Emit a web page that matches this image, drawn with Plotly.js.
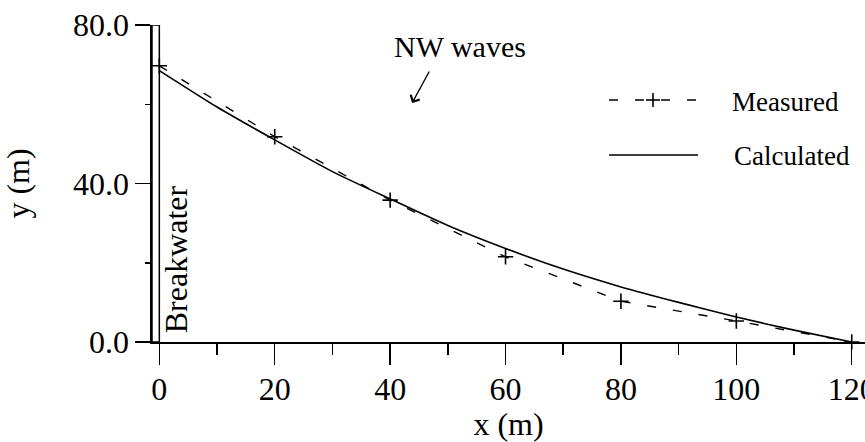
<!DOCTYPE html>
<html><head><meta charset="utf-8">
<script src="https://cdn.plot.ly/plotly-3.0.1.min.js"></script>
<style>html,body{margin:0;padding:0;background:#fff;overflow:hidden}#chart{width:865px;height:442px}</style>
</head><body><div id="chart"></div>
<script>
// ---- data ----
const measuredX = [0, 20, 40, 60, 80, 100, 120];
const measuredY = [69.7, 51.8, 35.8, 21.5, 10.3, 5.3, 0];
const calculatedX = [0, 10, 20, 30, 40, 50, 60, 70, 80, 90, 100, 110, 120];
const calculatedY = [68.5, 59.3, 51.0, 43.0, 36.1, 29.4, 23.6, 18.4, 13.9, 10.0, 6.3, 3.0, 0];
const xTickVals = [0, 20, 40, 60, 80, 100, 120];
const xTickText = ['0', '20', '40', '60', '80', '100', '120'];
const yTickVals = [0, 40, 80];
const yTickText = ['0.0', '40.0', '80.0'];
const seriesNames = ['Measured', 'Calculated'];
const xTitle = 'x (m)';
const yTitle = 'y (m)';
const breakwaterLabel = 'Breakwater';
const waveLabel = 'NW waves';

// ---- layout helpers ----
const FONT = 'Liberation Serif, Times New Roman, serif';
const L = 152, T = 25, R = 0, B = 100, W = 865, H = 442;
const PW = W - L - R, PH = H - T - B;
const px = v => (v - L) / PW;          // pixel x -> paper
const py = v => (T + PH - v) / PH;     // pixel y -> paper
const xRange = [-1.27, 122.3];
const yRange = [0, 80];
const DASH = '9px,17px';
const blk = '#000';

const traces = [
  {
    x: measuredX, y: measuredY, name: seriesNames[0], type: 'scatter', mode: 'lines+markers',
    line: {color: blk, width: 1.4, dash: DASH},
    marker: {symbol: 'cross-thin-open', size: 11, color: blk, line: {color: blk, width: 1.6}},
    cliponaxis: false, showlegend: false
  },
  {
    x: calculatedX, y: calculatedY, name: seriesNames[1], type: 'scatter', mode: 'lines',
    line: {color: blk, width: 1.6, shape: 'spline', smoothing: 0.6},
    cliponaxis: false, showlegend: false
  }
];

const legendShapes = [
  {type: 'line', xref: 'paper', yref: 'paper', x0: px(609), x1: px(697), y0: py(100), y1: py(100), line: {color: blk, width: 1.4, dash: DASH}},
  {type: 'line', xref: 'paper', yref: 'paper', x0: px(646), x1: px(660), y0: py(100), y1: py(100), line: {color: blk, width: 1.6}},
  {type: 'line', xref: 'paper', yref: 'paper', x0: px(653), x1: px(653), y0: py(93), y1: py(107), line: {color: blk, width: 1.6}},
  {type: 'line', xref: 'paper', yref: 'paper', x0: px(609), x1: px(698), y0: py(155), y1: py(155), line: {color: blk, width: 1.6}}
];

const layout = {
  width: W, height: H,
  margin: {l: L, r: R, t: T, b: B, pad: 0},
  paper_bgcolor: '#fff', plot_bgcolor: '#fff',
  font: {family: FONT, color: blk, size: 32},
  showlegend: false,
  hovermode: false,
  xaxis: {
    range: xRange, autorange: false, showgrid: false, zeroline: false,
    showline: true, linecolor: blk, linewidth: 1.6,
    ticks: 'outside', ticklen: 21, tickwidth: 1.5, tickcolor: blk,
    tickmode: 'array', tickvals: xTickVals, ticktext: xTickText,
    ticklabeloverflow: 'allow', ticklabelstandoff: -3,
    tickfont: {family: FONT, size: 32, color: blk},
    minor: {ticks: 'outside', dtick: 10, tick0: 0, ticklen: 11, tickwidth: 1.5, tickcolor: blk, showgrid: false},
    title: {text: xTitle, font: {family: FONT, size: 32, color: blk}, standoff: 12},
    automargin: false
  },
  yaxis: {
    range: yRange, autorange: false, showgrid: false, zeroline: false,
    showline: true, linecolor: blk, linewidth: 1.6,
    ticks: 'outside', ticklen: 15, tickwidth: 1.5, tickcolor: blk,
    tickmode: 'array', tickvals: yTickVals, ticktext: yTickText,
    tickfont: {family: FONT, size: 32, color: blk},
    minor: {ticks: 'outside', dtick: 20, tick0: 0, ticklen: 5, tickwidth: 1.5, tickcolor: blk, showgrid: false},
    title: {text: yTitle, font: {family: FONT, size: 32, color: blk}, standoff: 34},
    automargin: false
  },
  shapes: [
    {type: 'rect', xref: 'x', yref: 'y', x0: xRange[0], x1: 0, y0: yRange[0], y1: yRange[1],
     line: {color: blk, width: 1.5}, fillcolor: 'rgba(0,0,0,0)', layer: 'above'}
  ].concat(legendShapes),
  annotations: [
    {xref: 'x', yref: 'y', x: 2.8, y: 21, text: breakwaterLabel, textangle: -90, showarrow: false,
     xanchor: 'center', yanchor: 'middle', font: {family: FONT, size: 32, color: blk}},
    {xref: 'paper', yref: 'paper', x: px(460), y: py(46), text: waveLabel, showarrow: false,
     xanchor: 'center', yanchor: 'middle', font: {family: FONT, size: 30, color: blk}},
    {xref: 'x', yref: 'y', x: 43.8, y: 60.3, ax: 18, ay: -33, text: '', showarrow: true,
     arrowhead: 4, arrowsize: 1.5, arrowwidth: 1.3, arrowcolor: blk, standoff: 0},
    {xref: 'paper', yref: 'paper', x: px(730), y: py(102), text: seriesNames[0], showarrow: false,
     xanchor: 'left', yanchor: 'middle', font: {family: FONT, size: 27, color: blk}},
    {xref: 'paper', yref: 'paper', x: px(732), y: py(156), text: seriesNames[1], showarrow: false,
     xanchor: 'left', yanchor: 'middle', font: {family: FONT, size: 27, color: blk}}
  ]
};

Plotly.newPlot('chart', traces, layout, {staticPlot: true, displayModeBar: false});
</script>
</body></html>
